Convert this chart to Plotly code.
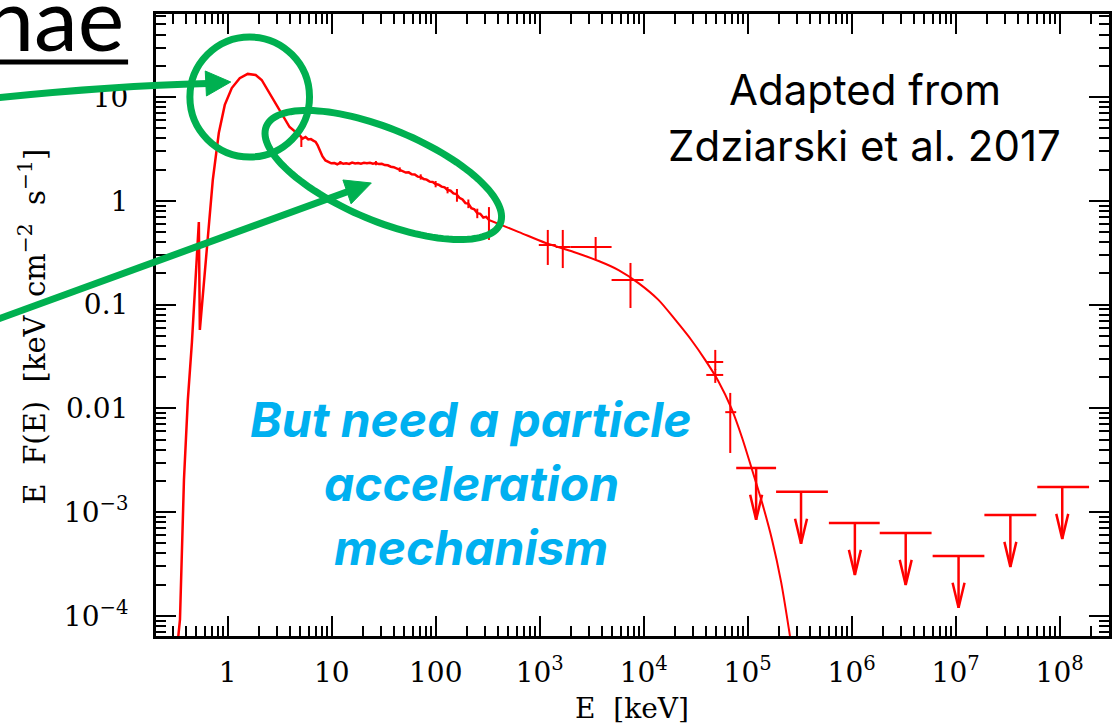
import numpy as np
import plotly.graph_objects as go

# ---------------- data ----------------
# soft X-ray / hard X-ray spectrum (data line)
E_soft = [0.332, 0.347, 0.379, 0.413, 0.452, 0.527, 0.539, 0.718, 0.820, 0.936,
          1.093, 1.303, 1.555, 1.855, 2.12, 2.53, 3.15, 3.93, 4.55, 4.90,
          5.25, 5.60, 5.95, 6.30, 6.65, 7.0, 7.3, 7.7, 8.15, 8.7,
          9.3, 9.9, 10.6, 11.3, 12.1, 12.9, 13.8, 14.7, 15.7, 16.8,
          17.9, 19.1, 20.4, 21.8, 23.3, 24.9, 26.6, 28.4, 30.3, 32.4,
          34.6, 37.0, 39.5, 42.2, 45.1, 48.2, 51.5, 55.0, 58.8, 62.8,
          67.1, 71.7, 76.6, 81.8, 87.4, 93.4, 99.8, 106.6, 113.9, 121.7,
          130, 139, 148, 158, 169, 181, 193, 206, 220, 235,
          251, 268, 287, 306, 327]
F_soft = [5.9e-5, 9.2e-5, 2.04e-3, 0.012, 0.043, 0.625, 0.057, 1.59, 4.5, 8.4,
          12.2, 15.2, 16.7, 16.3, 14.6, 10.9, 7.5, 5.14, 4.55, 4.3,
          3.98, 4.12, 3.90, 3.93, 3.80, 3.70, 3.45, 3.05, 2.68, 2.45,
          2.36, 2.30, 2.31, 2.25, 2.33, 2.28, 2.30, 2.27, 2.34, 2.29,
          2.31, 2.28, 2.32, 2.30, 2.33, 2.28, 2.31, 2.26, 2.27, 2.21,
          2.20, 2.13, 2.11, 2.05, 2.00, 1.95, 1.87, 1.88, 1.80, 1.79,
          1.71, 1.70, 1.62, 1.60, 1.53, 1.52, 1.45, 1.43, 1.37, 1.35,
          1.27, 1.25, 1.18, 1.16, 1.07, 1.03, 0.95, 0.94, 0.85, 0.83,
          0.76, 0.75, 0.69, 0.70, 0.65]

# error bars on selected soft data points
E_serr = [5.1, 12.1, 26.6, 45.1, 71.7, 99.8, 130, 160, 206, 251, 325]
F_serr = [3.7, 2.33, 2.31, 2.00, 1.70, 1.45, 1.27, 1.16, 0.94, 0.76, 0.65]
F_serr_hi = [4.1, 2.42, 2.42, 2.10, 1.80, 1.55, 1.36, 1.30, 1.03, 0.84, 0.87]
F_serr_lo = [3.3, 2.24, 2.20, 1.90, 1.60, 1.35, 1.18, 0.98, 0.85, 0.68, 0.42]

# model curve at high energies
E_model = [325, 631, 1143, 2123, 3687, 5734, 8913, 13860, 20180, 28710,
           39140, 52120, 69490, 88540, 110400, 137800, 171800, 209600, 249900, 267300]
F_model = [0.653, 0.500, 0.392, 0.321, 0.263, 0.215, 0.161, 0.111, 0.0711, 0.0456,
           0.0292, 0.0184, 0.0101, 0.00519, 0.00255, 0.00123, 5.4e-4, 2.13e-4, 7.33e-5, 4.7e-5]

# hard X-ray / soft gamma-ray points with errors
E_pts = [1196, 1667, 3451, 7465, 48800, 48800, 68000]
E_pts_lo = [980, 1427, 1987, 4912, 40000, 40000, 60900]
E_pts_hi = [1427, 1987, 4912, 9953, 58200, 58200, 77600]
F_pts = [0.375, 0.359, 0.359, 0.173, 0.0280, 0.0210, 0.0092]
F_pts_hi = [0.524, 0.524, 0.448, 0.252, 0.0366, 0.0240, 0.0141]
F_pts_lo = [0.241, 0.225, 0.269, 0.0927, 0.0234, 0.0176, 0.00372]

# upper limits
E_ul = [1.206e5, 3.26e5, 1.074e6, 3.31e6, 1.067e7, 3.36e7, 1.06e8]
E_ul_lo = [7.76e4, 1.876e5, 6.04e5, 1.862e6, 6.01e6, 1.89e7, 6.1e7]
E_ul_hi = [1.876e5, 5.91e5, 1.862e6, 5.87e6, 1.89e7, 5.97e7, 1.92e8]
F_ul = [2.67e-3, 1.57e-3, 7.87e-4, 6.3e-4, 3.79e-4, 9.4e-4, 1.75e-3]

# axis ticks
x_tickvals = [1, 10, 100, 1e3, 1e4, 1e5, 1e6, 1e7, 1e8]
x_ticktext = ["1", "10", "100", "10<sup>3</sup>", "10<sup>4</sup>", "10<sup>5</sup>",
              "10<sup>6</sup>", "10<sup>7</sup>", "10<sup>8</sup>"]
y_tickvals = [1e-4, 1e-3, 0.01, 0.1, 1, 10]
y_ticktext = ["10<sup>−4</sup>", "10<sup>−3</sup>", "0.01", "0.1", "1", "10"]

# ---------------- figure geometry ----------------
W, H = 1115, 728
L, R, T, B = 156, 1112, 14, 636
RED = "#FF0000"
GREEN = "#00B050"
BLUE = "#00B0F0"


def px(x):
    return (x - L) / (R - L)


def py(y):
    return (B - y) / (B - T)


fig = go.Figure()

fig.add_trace(go.Scatter(x=E_soft, y=F_soft, mode="lines",
                         line=dict(color=RED, width=2.5)))
fig.add_trace(go.Scatter(x=E_serr, y=F_serr, mode="markers",
                         marker=dict(size=1, color=RED),
                         error_y=dict(type="data", symmetric=False,
                                      array=[h - f for h, f in zip(F_serr_hi, F_serr)],
                                      arrayminus=[f - l for f, l in zip(F_serr, F_serr_lo)],
                                      width=0, thickness=2, color=RED)))
fig.add_trace(go.Scatter(x=E_model, y=F_model, mode="lines",
                         line=dict(color=RED, width=2, shape="spline", smoothing=0.8)))
fig.add_trace(go.Scatter(
    x=E_pts, y=F_pts, mode="markers", marker=dict(size=1, color=RED),
    error_y=dict(type="data", symmetric=False,
                 array=[h - f for h, f in zip(F_pts_hi, F_pts)],
                 arrayminus=[f - l for f, l in zip(F_pts, F_pts_lo)],
                 width=0, thickness=2, color=RED),
    error_x=dict(type="data", symmetric=False,
                 array=[h - e for h, e in zip(E_pts_hi, E_pts)],
                 arrayminus=[e - l for e, l in zip(E_pts, E_pts_lo)],
                 width=0, thickness=2, color=RED)))

# upper limits: horizontal bars
fig.add_trace(go.Scatter(
    x=E_ul, y=F_ul, mode="markers", marker=dict(size=1, color=RED),
    error_x=dict(type="data", symmetric=False,
                 array=[h - e for h, e in zip(E_ul_hi, E_ul)],
                 arrayminus=[e - l for e, l in zip(E_ul, E_ul_lo)],
                 width=0, thickness=2.5, color=RED)))
# arrows (style: 0.5 decade long, head 25 px long, 6 px half-width)
arr_len = 10 ** -0.5
head_y = 10 ** (25 / 103.8)
head_x = 10 ** (6 / 104.3)
ax_, ay_ = [], []
for e, f in zip(E_ul, F_ul):
    tip = f * arr_len
    ax_ += [e, e, None, e / head_x, e, e * head_x, None]
    ay_ += [f, tip, None, tip * head_y, tip, tip * head_y, None]
fig.add_trace(go.Scatter(x=ax_, y=ay_, mode="lines",
                         line=dict(color=RED, width=2.5)))

# ---------------- axes ----------------
minor_x = [m * 10.0 ** k for k in range(-1, 9) for m in range(2, 10)]
minor_y = [m * 10.0 ** k for k in range(-5, 2) for m in range(2, 10)]
axis_font = dict(family="DejaVu Serif", size=28, color="black")
common = dict(type="log", ticks="inside", ticklen=20, tickwidth=2, tickcolor="black",
              showline=True, linewidth=3, linecolor="black", mirror="ticks",
              showgrid=False, zeroline=False, tickfont=axis_font)
fig.update_xaxes(range=[np.log10(0.2041), 8.475], tickmode="array",
                 tickvals=x_tickvals, ticktext=x_ticktext, ticklabelstandoff=9,
                 minor=dict(tickmode="array", tickvals=minor_x, ticks="inside", ticklen=10,
                            tickwidth=2, tickcolor="black", showgrid=False),
                 **common)
fig.update_yaxes(range=[-4.193, 1.800], tickmode="array",
                 tickvals=y_tickvals, ticktext=y_ticktext, ticklabelstandoff=19,
                 minor=dict(tickmode="array", tickvals=minor_y, ticks="inside", ticklen=10,
                            tickwidth=2, tickcolor="black", showgrid=False),
                 **common)

# ---------------- annotations ----------------
ann = []
ann.append(dict(x=px(633), y=py(708), text="E&nbsp;&nbsp;[keV]", showarrow=False,
                font=dict(family="DejaVu Serif", size=28, color="black"),
                xanchor="center", yanchor="middle"))
ann.append(dict(x=px(32), y=py(326), textangle=-90,
                text="E&nbsp;&nbsp;F(E)&nbsp;&nbsp;[keV&nbsp;&nbsp;cm<sup>−2</sup>&nbsp;&nbsp;s<sup>−1</sup>]",
                showarrow=False, font=dict(family="DejaVu Serif", size=29, color="black"),
                xanchor="center", yanchor="middle"))
ann.append(dict(x=px(867), y=py(89), text="Adapted from", showarrow=False,
                font=dict(family="Inter", size=42, color="black"),
                xanchor="center", yanchor="middle"))
ann.append(dict(x=px(867), y=py(145), text="Zdziarski et al. 2017", showarrow=False,
                font=dict(family="Inter", size=42, color="black"),
                xanchor="center", yanchor="middle"))
for txt, yc in [("But need a particle", 419), ("acceleration", 483), ("mechanism", 547)]:
    ann.append(dict(x=px(472), y=py(yc), text="<b><i>" + txt + "</i></b>", showarrow=False,
                    font=dict(family="Inter", size=48, color=BLUE),
                    xanchor="center", yanchor="middle"))
ann.append(dict(x=px(126), y=py(17), text="nae", showarrow=False,
                font=dict(family="Lato", size=88, color="black"),
                xanchor="right", yanchor="middle"))
for a in ann:
    a.update(xref="paper", yref="paper")

# ---------------- shapes (green highlights) ----------------
shapes = []
lw = 7


def pt(x, y):
    return f"{px(x):.5f},{py(y):.5f}"


# circle around the thermal peak
shapes.append(dict(type="circle", xref="paper", yref="paper",
                   x0=px(190), x1=px(310), y0=py(157), y1=py(37),
                   line=dict(color=GREEN, width=lw)))
# rotated ellipse around the power-law tail
cx, cy, a_, b_, th = 384, 175, 127, 46, np.deg2rad(22.5)
tt = np.linspace(0, 2 * np.pi, 121)
ex = cx + a_ * np.cos(tt) * np.cos(th) - b_ * np.sin(tt) * np.sin(th)
ey = cy + a_ * np.cos(tt) * np.sin(th) + b_ * np.sin(tt) * np.cos(th)
path = "M " + " L ".join(pt(x, y) for x, y in zip(ex, ey)) + " Z"
shapes.append(dict(type="path", xref="paper", yref="paper", path=path,
                   line=dict(color=GREEN, width=lw)))
# arrow 1
shapes.append(dict(type="path", xref="paper", yref="paper",
                   path=f"M {pt(-5, 98)} Q {pt(110, 86)} {pt(208, 83.5)}",
                   line=dict(color=GREEN, width=lw)))
shapes.append(dict(type="path", xref="paper", yref="paper",
                   path=f"M {pt(231, 82)} L {pt(205.4, 71)} L {pt(206.6, 96)} Z",
                   fillcolor=GREEN, line=dict(color=GREEN, width=1)))
# arrow 2
shapes.append(dict(type="path", xref="paper", yref="paper",
                   path=f"M {pt(-5, 320)} L {pt(350, 191)}",
                   line=dict(color=GREEN, width=lw)))
shapes.append(dict(type="path", xref="paper", yref="paper",
                   path=f"M {pt(372, 183)} L {pt(343.5, 180.0)} L {pt(351.7, 203.8)} Z",
                   fillcolor=GREEN, line=dict(color=GREEN, width=1)))
# underline of title fragment
shapes.append(dict(type="line", xref="paper", yref="paper",
                   x0=px(-2), x1=px(128), y0=py(62), y1=py(62),
                   line=dict(color="black", width=5)))

fig.update_layout(width=W, height=H, margin=dict(l=L, r=W - R, t=T, b=H - B),
                  paper_bgcolor="white", plot_bgcolor="white", showlegend=False,
                  annotations=ann, shapes=shapes)

fig.write_html("out.html")
